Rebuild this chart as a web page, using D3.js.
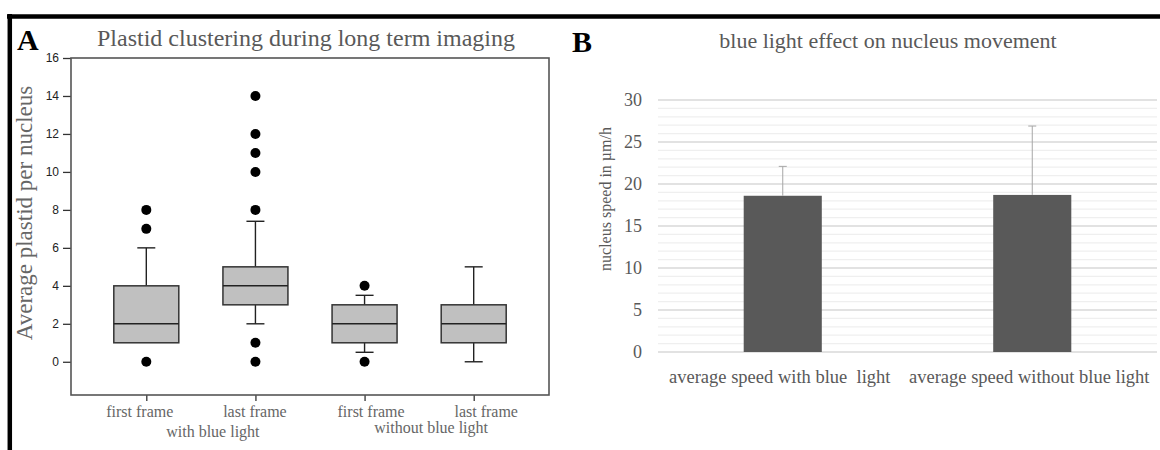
<!DOCTYPE html>
<html>
<head>
<meta charset="utf-8">
<script src="https://cdn.jsdelivr.net/npm/d3@7"></script>
<style>
  body { margin: 0; background: #fff; }
  svg { display: block; }
</style>
</head>
<body>
<svg width="1160" height="450"></svg>
<script>
// panel A data: box plot
const boxKeys = ["wb_first", "wb_last", "nb_first", "nb_last"];
const boxLabels = ["first frame", "last frame", "first frame", "last frame"];
const groupLabels = ["with blue light", "without blue light"];
const q1 = [1, 3, 1, 1];
const median = [2, 4, 2, 2];
const q3 = [4, 5, 3, 3];
const whiskLo = [1, 2, 0.5, 0];
const whiskHi = [6, 7.4, 3.5, 5];
const outliers = [[0, 7, 8], [0, 1, 8, 10, 11, 12, 14], [0, 4], []];
const yTicksA = [0, 2, 4, 6, 8, 10, 12, 14, 16];

// panel B data: bar chart
const speedCats = ["average speed with blue  light", "average speed without blue light"];
const speedMean = [18.6, 18.7];
const speedErr = [3.5, 8.2];
const yTicksB = [0, 5, 10, 15, 20, 25, 30];

const svg = d3.select("svg");
const serif = "'Liberation Serif', 'Times New Roman', serif";
const sans = "'Liberation Sans', Arial, sans-serif";

// outer frame
svg.append("line").attr("x1", 7).attr("x2", 1160).attr("y1", 16.5).attr("y2", 16.5)
  .attr("stroke", "#000").attr("stroke-width", 4.5);
svg.append("line").attr("x1", 9.8).attr("x2", 9.8).attr("y1", 14).attr("y2", 450)
  .attr("stroke", "#000").attr("stroke-width", 4.5);

// ---------- panel A ----------
const A = { left: 71, right: 549, top: 58, bottom: 395 };
const yA = d3.scaleLinear().domain([-1.75, 16]).range([A.bottom, A.top]);
const xA = d3.scalePoint().domain(boxKeys).range([A.left, A.right]).padding(0.69);
const boxW = 65, capW = 18;
const labelShift = [-7, -1, 6, 12]; // the x labels sit a little off their ticks

const gA = svg.append("g");

gA.append("text").attr("x", 17).attr("y", 50)
  .attr("font-family", serif).attr("font-weight", "bold").attr("font-size", 30)
  .attr("fill", "#000").text("A");
gA.append("text").attr("x", 306).attr("y", 46).attr("text-anchor", "middle")
  .attr("font-family", serif).attr("font-size", 24).attr("fill", "#595959")
  .text("Plastid clustering during long term imaging");

gA.append("text")
  .attr("transform", `translate(32,213) rotate(-90)`)
  .attr("text-anchor", "middle")
  .attr("font-family", serif).attr("font-size", 23).attr("fill", "#666")
  .text("Average plastid per nucleus");

// y axis
const axA = gA.append("g").attr("transform", `translate(${A.left},0)`)
  .call(d3.axisLeft(yA).tickValues(yTicksA).tickSize(8).tickPadding(4));
axA.select(".domain").remove();
axA.selectAll("line").attr("stroke", "#333").attr("stroke-width", 1.3);
axA.selectAll("text").attr("font-family", sans).attr("font-size", 12).attr("fill", "#222");

// x axis ticks
const axAx = gA.append("g").attr("transform", `translate(0,${A.bottom})`)
  .call(d3.axisBottom(xA).tickSize(6).tickFormat((d, i) => boxLabels[i]).tickPadding(5));
axAx.select(".domain").remove();
axAx.selectAll("line").attr("stroke", "#333").attr("stroke-width", 1.3);
axAx.selectAll("text").attr("font-family", serif).attr("font-size", 16).attr("fill", "#666")
  .attr("dx", (d, i) => labelShift[i]);

// group labels
gA.selectAll(".grp").data(groupLabels).enter().append("text")
  .attr("x", (d, i) => (xA(boxKeys[i * 2]) + xA(boxKeys[i * 2 + 1])) / 2 + 12)
  .attr("y", (d, i) => i === 0 ? 437 : 433)
  .attr("text-anchor", "middle")
  .attr("font-family", serif).attr("font-size", 16).attr("fill", "#666")
  .text(d => d);

// plot frame
gA.append("rect").attr("x", A.left).attr("y", A.top)
  .attr("width", A.right - A.left).attr("height", A.bottom - A.top)
  .attr("fill", "none").attr("stroke", "#555").attr("stroke-width", 1.6);

// boxes
const boxes = gA.selectAll(".box").data(boxKeys).enter().append("g").attr("class", "box");
boxes.append("line")
  .attr("x1", d => xA(d)).attr("x2", d => xA(d))
  .attr("y1", (d, i) => yA(q3[i])).attr("y2", (d, i) => yA(whiskHi[i]))
  .attr("stroke", "#222").attr("stroke-width", 1.4);
boxes.append("line")
  .attr("x1", d => xA(d)).attr("x2", d => xA(d))
  .attr("y1", (d, i) => yA(q1[i])).attr("y2", (d, i) => yA(whiskLo[i]))
  .attr("stroke", "#222").attr("stroke-width", 1.4);
boxes.append("line")
  .attr("x1", d => xA(d) - capW / 2).attr("x2", d => xA(d) + capW / 2)
  .attr("y1", (d, i) => yA(whiskHi[i])).attr("y2", (d, i) => yA(whiskHi[i]))
  .attr("stroke", "#222").attr("stroke-width", 1.4);
boxes.filter((d, i) => whiskLo[i] < q1[i]).append("line")
  .attr("x1", d => xA(d) - capW / 2).attr("x2", d => xA(d) + capW / 2)
  .attr("y1", d => yA(whiskLo[boxKeys.indexOf(d)])).attr("y2", d => yA(whiskLo[boxKeys.indexOf(d)]))
  .attr("stroke", "#222").attr("stroke-width", 1.4);
boxes.append("rect")
  .attr("x", d => xA(d) - boxW / 2).attr("width", boxW)
  .attr("y", (d, i) => yA(q3[i])).attr("height", (d, i) => yA(q1[i]) - yA(q3[i]))
  .attr("fill", "#c0c0c0").attr("stroke", "#333").attr("stroke-width", 1.5);
boxes.append("line")
  .attr("x1", d => xA(d) - boxW / 2).attr("x2", d => xA(d) + boxW / 2)
  .attr("y1", (d, i) => yA(median[i])).attr("y2", (d, i) => yA(median[i]))
  .attr("stroke", "#222").attr("stroke-width", 1.5);
boxes.each(function (d, i) {
  d3.select(this).selectAll("circle").data(outliers[i]).enter().append("circle")
    .attr("cx", xA(d)).attr("cy", v => yA(v)).attr("r", 5).attr("fill", "#000");
});

// ---------- panel B ----------
const B = { left: 658, right: 1157, top: 100, bottom: 352 };
const yB = d3.scaleLinear().domain([0, 30]).range([B.bottom, B.top]);
const xB = d3.scaleBand().domain(speedCats).range([B.left, B.right])
  .paddingInner(0.687).paddingOuter(0.3435);

const gB = svg.append("g");
gB.append("text").attr("x", 572).attr("y", 52)
  .attr("font-family", serif).attr("font-weight", "bold").attr("font-size", 30)
  .attr("fill", "#000").text("B");
gB.append("text").attr("x", 888).attr("y", 48).attr("text-anchor", "middle")
  .attr("font-family", serif).attr("font-size", 22).attr("fill", "#595959")
  .text("blue light effect on nucleus movement");

// gridlines
gB.selectAll(".minor").data(d3.range(0, 31, 1).filter(v => v % 5 !== 0)).enter().append("line")
  .attr("x1", B.left).attr("x2", B.right)
  .attr("y1", d => yB(d)).attr("y2", d => yB(d))
  .attr("stroke", "#efefef").attr("stroke-width", 1.2);
gB.selectAll(".major").data(yTicksB).enter().append("line")
  .attr("x1", B.left).attr("x2", B.right)
  .attr("y1", d => yB(d)).attr("y2", d => yB(d))
  .attr("stroke", "#d9d9d9").attr("stroke-width", 1.5);

const axB = gB.append("g").attr("transform", `translate(${B.left},0)`)
  .call(d3.axisLeft(yB).tickValues(yTicksB).tickSize(0).tickPadding(16));
axB.select(".domain").remove();
axB.selectAll("text").attr("font-family", serif).attr("font-size", 18).attr("fill", "#595959");

gB.append("text")
  .attr("transform", `translate(611,199) rotate(-90)`)
  .attr("text-anchor", "middle")
  .attr("font-family", serif).attr("font-size", 16).attr("fill", "#595959")
  .text("nucleus speed in \u00b5m/h");

// bars
gB.selectAll(".bar").data(speedCats).enter().append("rect")
  .attr("x", d => xB(d)).attr("width", xB.bandwidth())
  .attr("y", (d, i) => yB(speedMean[i])).attr("height", (d, i) => yB(0) - yB(speedMean[i]))
  .attr("fill", "#595959");

// error bars
const errG = gB.selectAll(".err").data(speedCats).enter().append("g");
errG.append("line")
  .attr("x1", d => xB(d) + xB.bandwidth() / 2).attr("x2", d => xB(d) + xB.bandwidth() / 2)
  .attr("y1", (d, i) => yB(speedMean[i])).attr("y2", (d, i) => yB(speedMean[i] + speedErr[i]))
  .attr("stroke", "#a6a6a6").attr("stroke-width", 1);
errG.append("line")
  .attr("x1", d => xB(d) + xB.bandwidth() / 2 - 4).attr("x2", d => xB(d) + xB.bandwidth() / 2 + 4)
  .attr("y1", (d, i) => yB(speedMean[i] + speedErr[i])).attr("y2", (d, i) => yB(speedMean[i] + speedErr[i]))
  .attr("stroke", "#a6a6a6").attr("stroke-width", 1);

// category labels
gB.selectAll(".cat").data(speedCats).enter().append("text")
  .attr("x", (d, i) => xB(d) + xB.bandwidth() / 2 - 3)
  .attr("y", 383)
  .attr("text-anchor", "middle")
  .attr("font-family", serif).attr("font-size", 18.5).attr("fill", "#595959")
  .attr("xml:space", "preserve").style("white-space", "pre")
  .text(d => d);
</script>
</body>
</html>
